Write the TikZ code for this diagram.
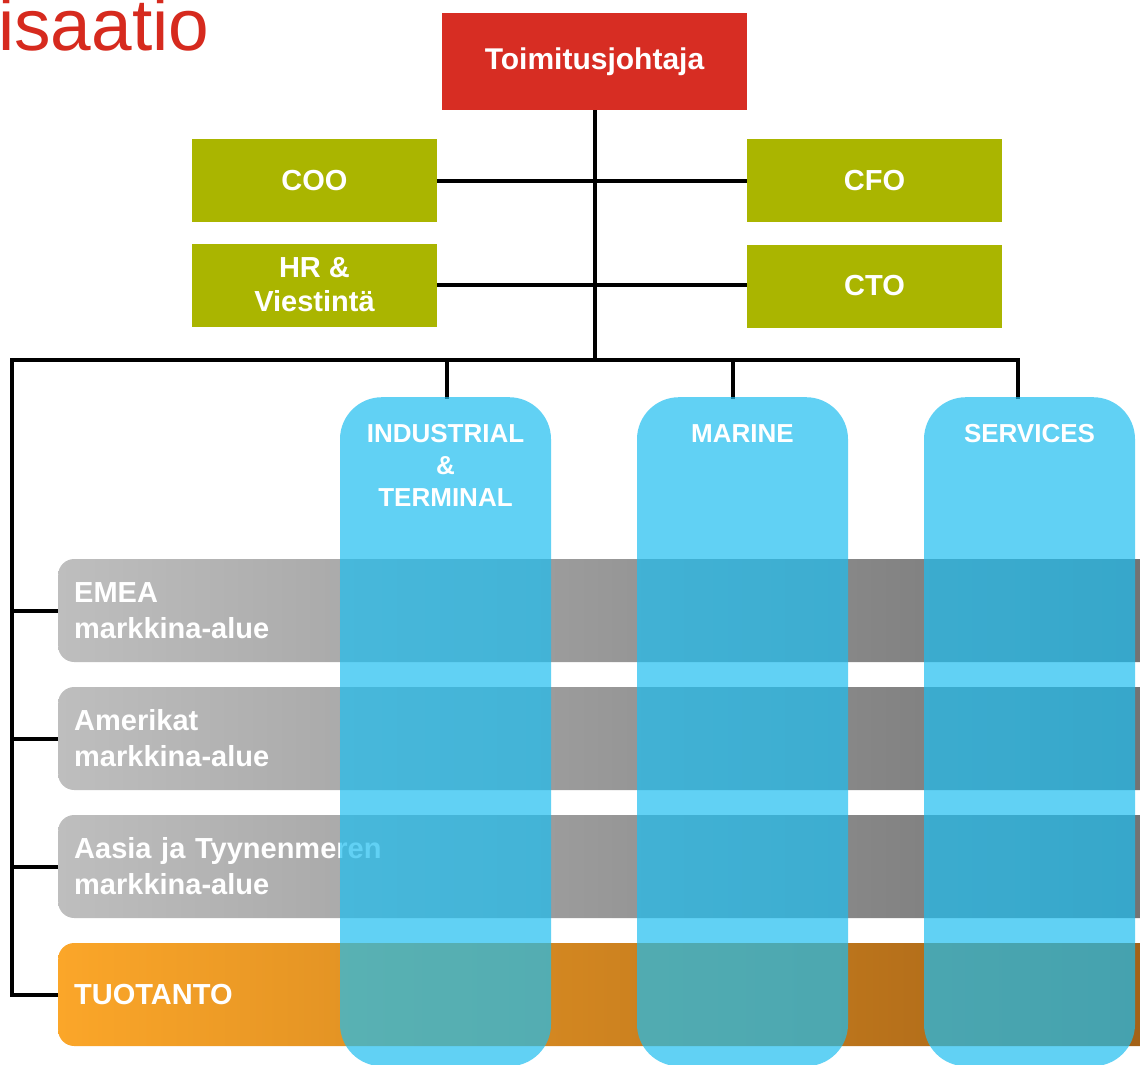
\documentclass[tikz,border=0pt]{standalone}
\usepackage{fontspec}
\setmainfont{Liberation Sans}
\usepackage{tikz}
\usetikzlibrary{positioning}

\definecolor{titlered}{RGB}{214,42,30}
\definecolor{ceored}{RGB}{215,45,35}
\definecolor{olivebox}{RGB}{170,181,0}
\definecolor{colblue}{RGB}{30,190,240}
\definecolor{greyleft}{RGB}{190,190,190}
\definecolor{greyright}{RGB}{112,112,112}
\definecolor{orangeleft}{RGB}{251,166,41}
\definecolor{orangeright}{RGB}{160,95,22}

\tikzset{
    orgline/.style={line width=4pt, black},
    ceobox/.style={fill=ceored, text=white, font=\bfseries\fontsize{30}{34}\selectfont,
        minimum width=305pt, minimum height=97pt, inner sep=0pt},
    staffbox/.style={fill=olivebox, text=white, font=\bfseries\fontsize{29}{34}\selectfont,
        minimum width=245pt, minimum height=83pt, inner sep=0pt, align=center},
    regionbar/.style={rounded corners=16pt, left color=greyleft, right color=greyright,
        text=white, font=\bfseries\fontsize{29}{36}\selectfont, anchor=west,
        minimum height=103pt, text width=1090pt, inner xsep=16pt, inner ysep=0pt, align=left},
    prodbar/.style={regionbar, left color=orangeleft, right color=orangeright},
    bizcol/.style={fill=colblue, fill opacity=0.7, draw=none, rounded corners=42pt,
        minimum width=211pt, minimum height=669pt, inner sep=0pt, anchor=north},
    colhead/.style={anchor=north, yshift=-27pt, inner sep=0pt, text=white, text opacity=1,
        font=\bfseries\fontsize{26}{32}\selectfont, align=center}
}

\begin{document}
\begin{tikzpicture}[x=1pt,y=1pt,yscale=-1,xscale=1]
    \clip (0,0) rectangle (1140,1065);
    \fill[white] (0,0) rectangle (1140,1065);

    % Text Node
    \node [anchor=base west, inner sep=0pt, text=titlered, font=\fontsize{73}{80}\selectfont] (title) at (-2,51) {isaatio};

    %Shape: Rectangle
    \node [ceobox] (ceo) at (594.5,61.5) {Toimitusjohtaja};
    \node [staffbox] (coo) at (314.5,180.5) {COO};
    \node [staffbox, minimum width=255pt] (cfo) at (874.5,180.5) {CFO};
    \node [staffbox] (hr) at (314.5,285) {HR \&\\Viestintä};
    \node [staffbox, minimum width=255pt] (cto) at (874.5,286) {CTO};

    %Shape: Bars
    \node [regionbar] (emea) at (58,610.5) {EMEA\\markkina-alue};
    \node [regionbar] (amer) at (58,738.5) {Amerikat\\markkina-alue};
    \node [regionbar] (apac) at (58,866.5) {Aasia ja Tyynenmeren\\markkina-alue};
    \node [prodbar] (prod) at (58,994.5) {TUOTANTO};

    %Straight Lines
    \coordinate (busl) at (12,360);
    \draw [orgline] (ceo.south) -- (ceo.south |- busl);
    \draw [orgline] (coo.east) -- (coo.east -| cfo.west);
    \draw [orgline] (hr.east) -- (hr.east -| cto.west);
    \draw [orgline] (1018,399) |- (busl) -- (busl |- prod.west) -- (prod.west);
    \foreach \b in {emea,amer,apac}
        \draw [orgline] (busl |- \b.west) -- (\b.west);
    \draw [orgline] (447,360) -- (447,399);
    \draw [orgline] (733,360) -- (733,399);

    %Shape: Columns
    \node [bizcol, label={[colhead]north:INDUSTRIAL\\\&\\TERMINAL}] (ind) at (445.5,397) {};
    \node [bizcol, label={[colhead]north:MARINE}] (mar) at (742.5,397) {};
    \node [bizcol, label={[colhead]north:SERVICES}] (srv) at (1029.5,397) {};

\end{tikzpicture}
\end{document}
